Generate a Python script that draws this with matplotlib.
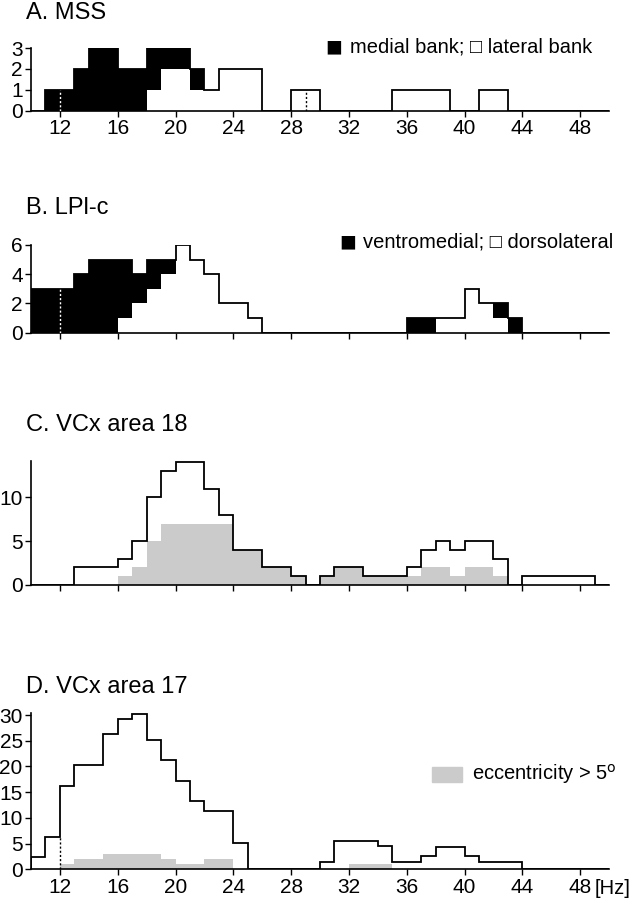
import numpy as np
import matplotlib
matplotlib.use("Agg")
import matplotlib.pyplot as plt
from matplotlib.patches import Rectangle

plt.rcParams['font.family'] = ['Liberation Sans', 'DejaVu Sans']

# ---------------- data (1-Hz bins from 10 to 50 Hz) ----------------
bin_edges = np.arange(10, 51)
x_ticks = [12, 16, 20, 24, 28, 32, 36, 40, 44, 48]

# A. MSS
A_medial = [0, 1, 1, 2, 3, 3, 2, 2, 2, 1, 1, 1, 0, 0, 0, 0, 0, 0, 0, 0,
            0, 0, 0, 0, 0, 0, 0, 0, 0, 0, 0, 0, 0, 0, 0, 0, 0, 0, 0, 0]
A_lateral = [0, 0, 0, 0, 0, 0, 0, 0, 1, 2, 2, 1, 1, 2, 2, 2, 0, 0, 1, 1,
             0, 0, 0, 0, 0, 1, 1, 1, 1, 0, 0, 1, 1, 0, 0, 0, 0, 0, 0, 0]
A_marks_x = [12, 29]
A_marks_h = [1, 1]
A_marks_c = ['white', 'black']
A_yticks = [0, 1, 2, 3]

# B. LPl-c
B_ventro = [3, 3, 3, 4, 5, 5, 4, 2, 2, 1, 0, 0, 0, 0, 0, 0, 0, 0, 0, 0,
            0, 0, 0, 0, 0, 0, 1, 1, 0, 0, 0, 0, 1, 1, 0, 0, 0, 0, 0, 0]
B_dorso = [0, 0, 0, 0, 0, 0, 1, 2, 3, 4, 6, 5, 4, 2, 2, 1, 0, 0, 0, 0,
           0, 0, 0, 0, 0, 0, 0, 0, 1, 1, 3, 2, 1, 0, 0, 0, 0, 0, 0, 0]
B_marks_x = [12]
B_marks_h = [3]
B_marks_c = ['white']
B_yticks = [0, 2, 4, 6]

# C. VCx area 18
C_total = [0, 0, 0, 2, 2, 2, 3, 5, 10, 13, 14, 14, 11, 8, 4, 4, 2, 2, 1, 0,
           1, 2, 2, 1, 1, 1, 2, 4, 5, 4, 5, 5, 3, 0, 1, 1, 1, 1, 1, 0]
C_ecc = [0, 0, 0, 0, 0, 0, 1, 2, 5, 7, 7, 7, 7, 7, 4, 4, 2, 2, 1, 0,
         1, 2, 2, 1, 1, 1, 1, 2, 2, 1, 2, 2, 1, 0, 0, 0, 0, 0, 0, 0]
C_yticks = [0, 5, 10]

# D. VCx area 17
D_total = [2.3, 6.35, 16.2, 20.2, 20.2, 26.3, 29.2, 30.3, 25.1, 21.2,
           17.2, 13.2, 11.3, 11.3, 5.1, 0, 0, 0, 0, 0,
           1.5, 5.5, 5.5, 5.5, 4.5, 1.5, 1.5, 2.5, 4.4, 4.4,
           2.5, 1.5, 1.5, 1.5, 0, 0, 0, 0, 0, 0]
D_ecc = [0, 0, 1, 2, 2, 3, 3, 3, 3, 2, 1, 1, 2, 2, 0, 0, 0, 0, 0, 0,
         0, 0, 1, 1, 1, 0, 0, 0, 0, 0, 0, 0, 0, 0, 0, 0, 0, 0, 0, 0]
D_marks_x = [12]
D_marks_h = [6.35]
D_marks_c = ['black']
D_yticks = [0, 5, 10, 15, 20, 25, 30]

GRAY = '#cbcbcb'
LW = 1.3
TICK_FS = 15
TITLE_FS = 17
LEG_FS = 14.5

W, H = 632, 900
fig = plt.figure(figsize=(W / 100, H / 100), dpi=100)


def make_ax(top_px, base_px, ymax):
    left = 31 / W
    width = (609 - 31) / W
    ax = fig.add_axes([left, 1 - base_px / H, width, (base_px - top_px) / H])
    ax.set_xlim(10, 50)
    ax.set_ylim(0, ymax)
    for s in ['top', 'right']:
        ax.spines[s].set_visible(False)
    for s in ['left', 'bottom']:
        ax.spines[s].set_linewidth(1.2)
    ax.set_xticks(x_ticks)
    ax.tick_params(axis='both', direction='out', length=4, width=1,
                   labelsize=TICK_FS, pad=2)
    ax.patch.set_alpha(0)
    return ax


def marks(ax, xs, hs, cs):
    for x, h, c in zip(xs, hs, cs):
        ax.plot([x, x], [0, h], color=c, lw=1.0, ls=(0, (1.5, 1.5)), zorder=5)


# ---------- A ----------
axA = make_ax(48, 110.7, 3)
totA = np.array(A_medial) + np.array(A_lateral)
axA.stairs(totA, bin_edges, fill=True, color='white', zorder=2)
axA.stairs(totA, bin_edges, baseline=np.array(A_lateral, dtype=float),
           fill=True, color='black', zorder=3)
axA.stairs(totA, bin_edges, baseline=0, color='black', lw=LW, zorder=4)
marks(axA, A_marks_x, A_marks_h, A_marks_c)
axA.set_yticks(A_yticks)
axA.set_xticklabels([str(t) for t in x_ticks])

# ---------- B ----------
axB = make_ax(245, 332.7, 6)
totB = np.array(B_ventro) + np.array(B_dorso)
axB.stairs(totB, bin_edges, fill=True, color='white', zorder=2)
axB.stairs(totB, bin_edges, baseline=np.array(B_dorso, dtype=float),
           fill=True, color='black', zorder=3)
axB.stairs(totB, bin_edges, baseline=0, color='black', lw=LW, zorder=4)
marks(axB, B_marks_x, B_marks_h, B_marks_c)
axB.set_yticks(B_yticks)
axB.set_xticklabels([])

# ---------- C ----------
axC = make_ax(460.5, 585, 14.2)
axC.stairs(C_ecc, bin_edges, fill=True, color=GRAY, zorder=2)
axC.stairs(C_total, bin_edges, baseline=0, color='black', lw=LW, zorder=4)
axC.set_yticks(C_yticks)
axC.set_xticklabels([])

# ---------- D ----------
axD = make_ax(713, 869.3, 30.4)
axD.stairs(D_ecc, bin_edges, fill=True, color=GRAY, zorder=2)
axD.stairs(D_total, bin_edges, baseline=0, color='black', lw=LW, zorder=4)
marks(axD, D_marks_x, D_marks_h, D_marks_c)
axD.set_yticks(D_yticks)
axD.set_xticklabels([str(t) for t in x_ticks])


# ---------- texts ----------
def ftext(x_px, y_px, s, **kw):
    fig.text(x_px / W, 1 - y_px / H, s, **kw)


ftext(630, 889, '[Hz]', fontsize=14.5, va='center', ha='right')

ftext(26, 13, 'A. MSS', fontsize=TITLE_FS, va='center', ha='left')
ftext(26, 208, 'B. LPl-c', fontsize=TITLE_FS, va='center', ha='left')
ftext(26, 425, 'C. VCx area 18', fontsize=TITLE_FS, va='center', ha='left')
ftext(26, 687, 'D. VCx area 17', fontsize=TITLE_FS, va='center', ha='left')

# ---------- legends ----------
ftext(325, 48, '■', fontsize=20, va='center', ha='left')
ftext(592, 47, 'medial bank; □ lateral bank', fontsize=LEG_FS,
      va='center', ha='right')
ftext(339, 243, '■', fontsize=20, va='center', ha='left')
ftext(613, 242, 'ventromedial; □ dorsolateral', fontsize=LEG_FS,
      va='center', ha='right')
fig.patches.append(Rectangle((432 / W, 1 - 782 / H), 30 / W, 15 / H,
                             transform=fig.transFigure, color=GRAY))
ftext(472, 774, 'eccentricity > 5$^{\\mathrm{o}}$', fontsize=LEG_FS,
      va='center', ha='left')

fig.savefig('out.png', dpi=100)
